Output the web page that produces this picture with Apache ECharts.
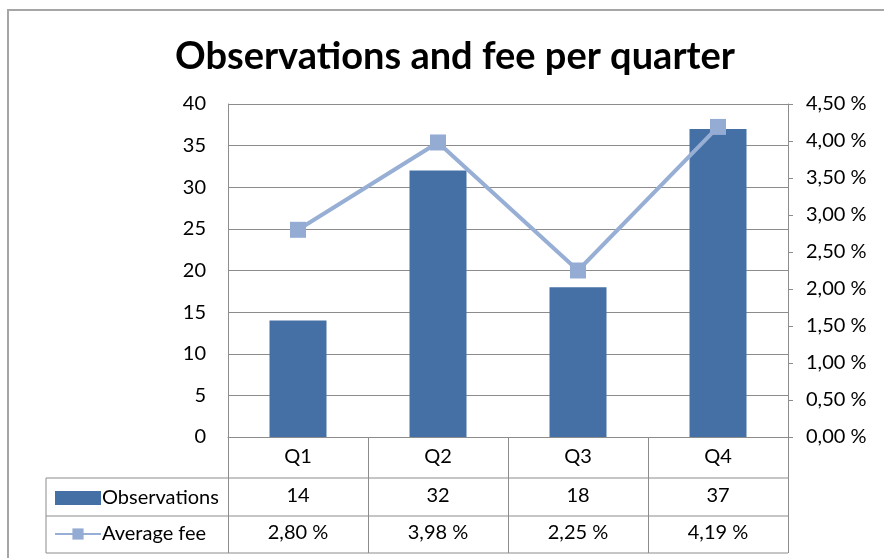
<!DOCTYPE html>
<html>
<head>
<meta charset="utf-8">
<style>
  html, body { margin: 0; padding: 0; background: #fff; }
  #chart { width: 884px; height: 558px; }
</style>
<script src="https://cdn.jsdelivr.net/npm/echarts@6/dist/echarts.min.js"></script>
</head>
<body>
<div id="chart"></div>
<script>
// Quarterly observations (bars, left axis) and average fee in percent (line, right axis)
const quarters = ['Q1', 'Q2', 'Q3', 'Q4'];
const observations = [14, 32, 18, 37];
const averageFee = [2.80, 3.98, 2.25, 4.19];
const leftTicks = { min: 0, max: 40, interval: 5 };
const rightTicks = { min: 0, max: 4.5, interval: 0.5 };

const FONT = 'Lato';
const pct = v => v.toFixed(2).replace('.', ',') + ' %';

const chart = echarts.init(document.getElementById('chart'));

// Grid edges in pixels, reused by the data-table rules
const G = { left: 228, right: 788, top: 104, bottom: 437 };
const ROW1 = 478, ROW2 = 516, ROW3 = 553, TABLE_LEFT = 46;
const gridLine = '#8c8c8c';

// Value rows of the data table are drawn as extra category axes under the grid
function tableRow(values, fmt, margin) {
  return {
    type: 'category',
    position: 'bottom',
    data: values.map(fmt),
    axisLine: { show: false },
    axisTick: { show: false },
    axisLabel: { margin: margin, fontFamily: FONT, fontSize: 20, color: '#000' }
  };
}

chart.setOption({
  animation: false,
  title: {
    text: 'Observations and fee per quarter',
    left: 450, top: 33, textAlign: 'center',
    textStyle: { fontFamily: FONT, fontWeight: 'bold', fontSize: 38, color: '#000' }
  },
  legend: {
    orient: 'vertical',
    left: 49, top: 483,
    itemWidth: 46, itemHeight: 14, itemGap: 16,
    textStyle: { fontFamily: FONT, fontSize: 20, color: '#000', padding: [0, 0, 0, -4] },
    data: [{ name: 'Observations', icon: 'rect' }, { name: 'Average fee' }]
  },
  grid: {
    left: G.left, right: 884 - G.right, top: G.top, bottom: 558 - G.bottom,
    containLabel: false
  },
  xAxis: [
    {
      type: 'category',
      data: quarters,
      axisLine: { lineStyle: { color: gridLine, width: 1 } },
      axisTick: { show: true, length: ROW3 - G.bottom, lineStyle: { color: gridLine } },
      axisLabel: { margin: 10, fontFamily: FONT, fontSize: 20, color: '#000' }
    },
    tableRow(observations, v => String(v), 49),
    tableRow(averageFee, pct, 86)
  ],
  yAxis: [
    {
      type: 'value',
      min: leftTicks.min, max: leftTicks.max, interval: leftTicks.interval,
      axisLine: { show: true, lineStyle: { color: gridLine } },
      axisTick: { show: false },
      splitLine: { lineStyle: { color: gridLine, width: 1 } },
      axisLabel: { margin: 22, fontFamily: FONT, fontSize: 20, color: '#000' }
    },
    {
      type: 'value',
      min: rightTicks.min, max: rightTicks.max, interval: rightTicks.interval,
      position: 'right',
      axisLine: { show: true, lineStyle: { color: gridLine } },
      axisTick: { show: true, length: 5, lineStyle: { color: gridLine } },
      splitLine: { show: false },
      axisLabel: { margin: 18, fontFamily: FONT, fontSize: 20, color: '#000', formatter: pct }
    }
  ],
  series: [
    {
      name: 'Observations',
      type: 'bar',
      data: observations,
      barWidth: 57,
      itemStyle: { color: '#4470A6' }
    },
    {
      name: 'Average fee',
      type: 'line',
      yAxisIndex: 1,
      data: averageFee,
      symbol: 'rect',
      symbolSize: 16,
      lineStyle: { color: '#97AED5', width: 4 },
      itemStyle: { color: '#94ABD4' }
    }
  ],
  graphic: [
    // outer chart frame
    { type: 'rect', shape: { x: 8, y: 10, width: 900, height: 600 },
      style: { fill: 'none', stroke: '#a6a6a6', lineWidth: 2 }, silent: true },
    // data table rules
    { type: 'line', shape: { x1: TABLE_LEFT, y1: ROW1, x2: G.right, y2: ROW1 },
      style: { stroke: gridLine, lineWidth: 1 } },
    { type: 'line', shape: { x1: TABLE_LEFT, y1: ROW2, x2: G.right, y2: ROW2 },
      style: { stroke: gridLine, lineWidth: 1 } },
    { type: 'line', shape: { x1: TABLE_LEFT, y1: ROW3, x2: G.right, y2: ROW3 },
      style: { stroke: gridLine, lineWidth: 1 } },
    { type: 'line', shape: { x1: TABLE_LEFT, y1: ROW1, x2: TABLE_LEFT, y2: ROW3 },
      style: { stroke: gridLine, lineWidth: 1 } }
  ]
});
</script>
</body>
</html>
